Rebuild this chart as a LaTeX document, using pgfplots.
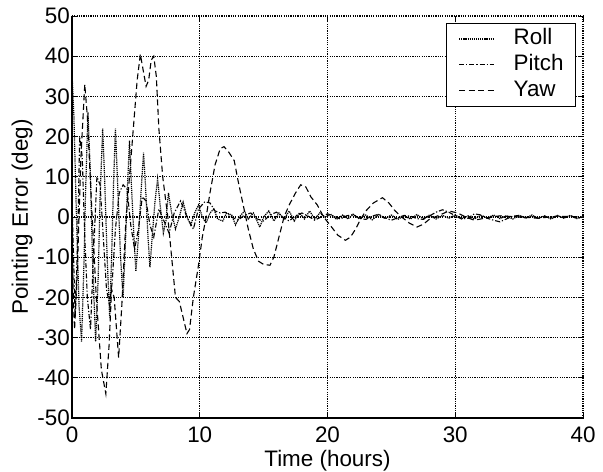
\documentclass[border=0pt]{standalone}
\usepackage{fontspec}
\setmainfont{Liberation Sans}
\usepackage{pgfplots}
\pgfplotsset{compat=1.18}

\pgfplotsset{
  rollstyle/.style={black, line width=1.2bp, dash pattern=on 1.2bp off 0.9bp},
  pitchstyle/.style={black, line width=1.1bp, dash pattern=on 5bp off 2bp on 1.2bp off 2bp},
  yawstyle/.style={black, line width=1.1bp, dash pattern=on 6bp off 3.5bp},
}

\begin{document}
\begin{tikzpicture}
\useasboundingbox (-72bp,-54bp) rectangle (531bp,418bp);
\begin{axis}[
scale only axis,
width=511bp, height=402bp,
xmin=0, xmax=40, ymin=-50, ymax=50,
xtick={0,10,20,30,40},
ytick={-50,-40,-30,-20,-10,0,10,20,30,40,50},
/pgf/number format/assume math mode=true,
font=\fontsize{22.5}{26}\selectfont,
tick align=inside,
major tick length=5bp,
tick style={black, line width=0.9bp},
axis line style={draw=none},
grid=major,
major grid style={black, line width=1.2bp, dash pattern=on 1.2bp off 1.1bp},
yticklabel style={inner xsep=2bp},
xticklabel style={inner ysep=1bp, yshift=-8bp},
xlabel={Time (hours)},
ylabel={Pointing Error (deg)},
xlabel style={at={(axis description cs:0.5,0)}, anchor=base, inner ysep=0pt, yshift=-48bp},
ylabel style={at={(axis description cs:0,0.5)}, anchor=base, yshift=44bp},
legend cell align=left,
legend style={at={(rel axis cs:1,1)}, anchor=north east, xshift=-7bp, yshift=-7bp,
  draw=black, line width=0.9bp, fill=white, inner xsep=12bp, inner ysep=2.5bp,
  font=\fontsize{22.5}{26}\selectfont,
  nodes={inner xsep=0pt, inner ysep=2.5bp, text height=16bp, text depth=5bp},
  /tikz/every odd column/.append style={column sep=19bp}},
legend image code/.code={\draw[#1] (0bp,0bp) -- (35bp,0bp);},
after end axis/.code={\draw[black, line width=1.4bp] (rel axis cs:0,1) -- (rel axis cs:0,0) -- (rel axis cs:1,0);},
]
% Roll
\addplot[rollstyle] coordinates {
(0,36) (0.15,25) (0.35,0) (0.55,-22) (0.75,-31) (0.95,-10) (1.05,5) (1.25,26)
(1.45,10) (1.6,-10) (1.85,-31) (2.05,-15) (2.2,5) (2.4,22) (2.55,10) (2.75,-10)
(2.95,-25) (3.1,-10) (3.25,8) (3.4,22) (3.55,10) (3.8,-10) (4.0,-20) (4.2,-5)
(4.35,8) (4.5,19) (4.65,8) (4.85,-5) (5.0,-13.5) (5.2,-5) (5.4,6) (5.6,16)
(5.75,8) (5.95,-5) (6.1,-12.5) (6.3,-4) (6.5,4) (6.7,9.5) (6.9,3) (7.15,-4)
(7.35,-1) (7.55,6) (7.8,1) (8.1,-3) (8.4,0) (8.7,3.7) (9.0,0) (9.3,-2)
(9.6,1) (9.9,3) (10.2,0) (10.5,-1.5) (10.8,1) (11.1,2) (11.4,-0.5) (11.8,-1)
(12.1,1) (12.5,0.5) (12.8,-2) (13.1,0) (13.5,1.5) (13.8,-0.5) (14.2,1) (14.7,-2.5)
(15.0,0) (15.4,1.5) (15.8,-1) (16.2,1) (16.6,-0.5) (17.0,1.5) (17.4,-1) (17.8,1)
(18.2,-0.5) (18.6,1.5) (19.0,-0.5) (19.4,1) (19.8,0) (20.3,0.6) (20.7,-0.6) (21.2,0.5)
(21.6,-0.5) (22.0,0.7) (22.5,-0.5) (23.0,0.5) (23.5,-0.7) (24.0,0.6) (24.5,-0.4) (25.0,0.5)
(25.5,-0.6) (26.0,0.3) (26.5,-0.5) (27.0,0.6) (27.5,-0.4) (28.0,0.5) (28.5,-0.5) (29.0,0.4)
(29.5,-0.3) (30.0,0.5) (30.5,-0.4) (31.0,0.3) (31.5,-0.5) (32.0,0.4) (32.5,-0.3) (33.0,0.5)
(33.5,-0.4) (34.0,0.3) (34.5,-0.5) (35.0,0.4) (35.5,-0.3) (36.0,0.5) (36.5,-0.4) (37.0,0.3)
(37.5,-0.5) (38.0,0.4) (38.5,-0.3) (39.0,0.4) (39.5,-0.4) (40.0,0)
};
\addlegendentry{Roll}
% Pitch
\addplot[pitchstyle] coordinates {
(0,5) (0.25,-25) (0.45,-5) (0.6,20) (0.8,15) (1.0,-5) (1.2,-20) (1.45,-28)
(1.7,-8) (1.95,10) (2.2,8) (2.45,-5) (2.7,-18) (2.95,-22) (3.15,-16) (3.4,-3)
(3.7,6) (4.0,8) (4.3,7) (4.6,-2) (4.9,-8) (5.2,-3) (5.5,5) (5.8,4)
(6.1,-2) (6.4,-5) (6.8,2) (7.2,-1) (7.6,-4) (8.0,1) (8.5,4) (9.0,0)
(9.5,-3) (9.9,2) (10.4,3.8) (10.8,3.5) (11.2,1.5) (11.6,1) (12.0,1.2) (12.5,0)
(13.0,-0.8) (13.5,0.5) (14.0,1) (14.5,-0.5) (15.0,-1) (15.5,0.5) (16.0,1.2) (16.5,0)
(17.0,-1) (17.5,0.3) (18.0,1) (18.5,0.2) (19.0,-0.8) (19.5,0) (20.0,0.8) (20.5,0.2)
(21.0,-0.5) (21.5,0.3) (22.0,0.6) (22.5,-0.3) (23.0,-0.6) (23.5,0.2) (24.0,0.7) (24.5,-0.2)
(25.0,-0.8) (25.5,-0.2) (26.0,0.4) (26.5,0.2) (27.0,-0.4) (27.5,-0.6) (28.0,0.3) (28.5,1.2)
(29.0,1.8) (29.5,1.2) (30.0,0.3) (30.5,-0.5) (31.0,-0.3) (31.5,0.8) (32.0,0.5) (32.5,-0.3)
(33.0,-0.8) (33.5,-1.2) (34.0,-0.5) (34.5,0.2) (35.0,0.4) (35.5,-0.2) (36.0,0.3) (36.5,-0.3)
(37.0,0.2) (37.5,-0.4) (38.0,0.3) (38.5,-0.2) (39.0,0.4) (39.5,-0.3) (40.0,0)
};
\addlegendentry{Pitch}
% Yaw
\addplot[yawstyle] coordinates {
(0,0) (0.1,-20) (0.2,-28) (0.4,-15) (0.7,15) (1.0,33) (1.2,25) (1.5,5)
(1.9,-20) (2.3,-38) (2.65,-44) (2.9,-32) (3.1,-18) (3.3,-20) (3.65,-35) (3.9,-22)
(4.2,-2) (4.5,10) (4.8,22) (5.1,34) (5.35,40.5) (5.6,36) (5.8,32.5) (6.0,34)
(6.2,39) (6.4,40) (6.6,35) (6.8,22) (7.1,10) (7.5,0) (7.8,-10) (8.1,-20)
(8.4,-21) (8.7,-25) (9.0,-29) (9.2,-28) (9.5,-20) (9.9,-12) (10.2,-5) (10.5,0)
(10.8,6) (11.2,13) (11.6,17) (11.9,17.5) (12.3,16) (12.7,14) (13.0,9) (13.4,3)
(13.8,-3) (14.2,-8) (14.6,-11) (15.0,-11.8) (15.5,-12) (15.8,-10) (16.2,-5) (16.6,0)
(17.0,3) (17.5,6) (17.9,8) (18.3,7.5) (18.7,5) (19.2,3) (19.7,0) (20.2,-2)
(20.8,-4.5) (21.4,-5.8) (21.8,-5) (22.2,-3) (22.6,-0.5) (23.0,1.5) (23.6,3.5) (24.3,4.8)
(24.8,3.5) (25.3,1.5) (25.8,0) (26.4,-1.5) (27.0,-2.5) (27.5,-1.8) (28.0,-0.5) (28.8,0.5)
(29.5,1.5) (30.2,1) (30.8,0) (31.5,-0.8) (32.3,-0.3) (33.5,0.3) (35.0,0) (36.5,-0.3)
(38.0,0.2) (40.0,0)
};
\addlegendentry{Yaw}
\end{axis}
\end{tikzpicture}
\end{document}
